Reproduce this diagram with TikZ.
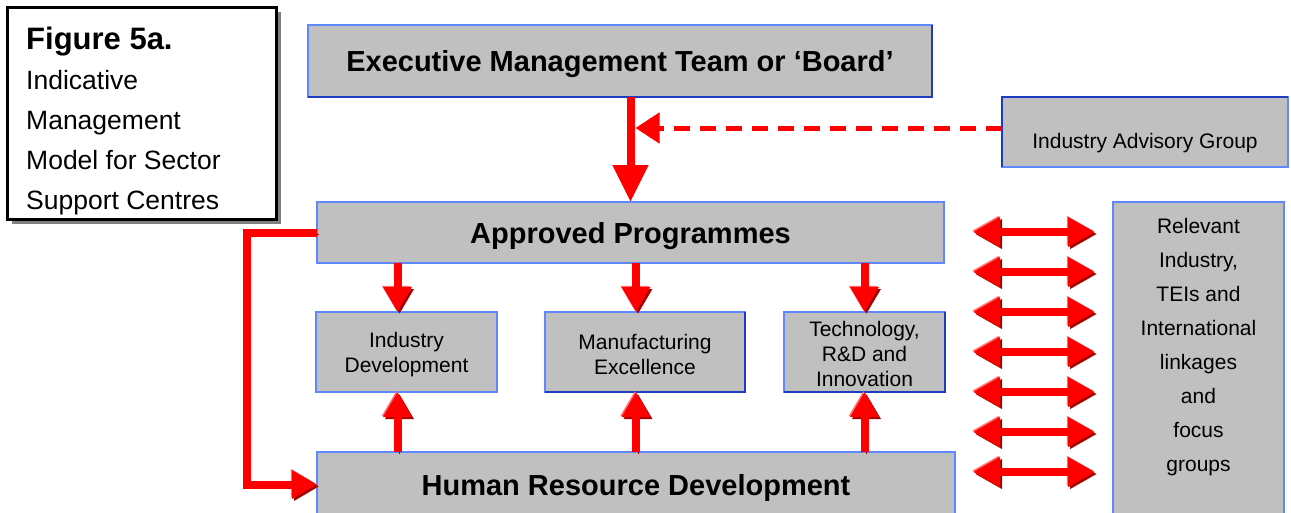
\documentclass[tikz,border=0pt]{standalone}
\usepackage{fontspec}
\setmainfont{Liberation Sans}
\usetikzlibrary{arrows.meta,shadows,calc}
\definecolor{boxgray}{RGB}{192,192,192}
\definecolor{lblue}{RGB}{95,135,255}
\definecolor{dblue}{RGB}{30,60,190}
\definecolor{arrred}{RGB}{255,0,0}
\definecolor{darkred}{RGB}{165,0,0}
\definecolor{lightred}{RGB}{255,110,110}
\begin{document}
\begin{tikzpicture}[x=1pt,y=-1pt,
  box/.style={rectangle, fill=boxgray, draw=lblue, line width=1.3pt, anchor=north west,
    inner sep=0pt, outer sep=0pt},
  bigtxt/.style={font=\fontsize{29}{34}\selectfont\bfseries, align=center},
  midtxt/.style={font=\fontsize{21}{25}\selectfont, align=center},
  darkedge/.style={draw=dblue, line width=1.8pt},
  shade3d/.style={preaction={draw=darkred, transform canvas={xshift=2pt,yshift=-2pt}},
                  preaction={draw=lightred, transform canvas={xshift=-1.2pt,yshift=1.2pt}}},
  bigarrow/.style={draw=arrred, line width=8pt, -{Triangle[length=37pt,width=34pt]}},
  dasharrow/.style={draw=arrred, line width=5pt, dash pattern=on 16pt off 10pt,
    -{Triangle[length=24pt,width=30pt]}},
  smallarrow/.style={draw=arrred, line width=8pt, -{Triangle[length=25pt,width=27pt]}, shade3d},
  looparrow/.style={draw=arrred, line width=8pt, -{Triangle[length=25pt,width=27pt]}, shade3d},
  dblarrow/.style={draw=arrred, line width=8pt, {Triangle[length=27pt,width=28pt]}-{Triangle[length=27pt,width=28pt]}, shade3d}
]
\useasboundingbox (0,0) rectangle (1291,512);

% title box
\node[fill=white, draw=black, line width=2.5pt, anchor=north west, minimum width=269pt,
  minimum height=212pt, inner sep=0pt,
  drop shadow={shadow xshift=5pt, shadow yshift=-5pt, fill=gray, opacity=1}] (fig) at (6,6) {};
\node[anchor=north west, align=left, inner sep=0pt, font=\fontsize{26.5}{40}\selectfont]
  (figtext) at ([xshift=20pt,yshift=-21pt]fig.north west)
  {{\fontsize{31}{40}\selectfont\bfseries Figure 5a.}\\Indicative\\Management\\Model for Sector\\Support Centres};

% boxes
\node[box, minimum width=624pt, minimum height=72pt,
  label={[bigtxt, yshift=-3pt]center:Executive Management Team or `Board'}] (exec) at (308,25) {};
\node[box, minimum width=286pt, minimum height=70pt,
  label={[midtxt, yshift=-11pt]center:Industry Advisory Group}] (iag) at (1002,97) {};
\node[box, minimum width=627pt, minimum height=61pt,
  label={[bigtxt, yshift=-4pt]center:Approved Programmes}] (ap) at (317,202) {};
\node[box, minimum width=181pt, minimum height=80pt,
  label={[midtxt, yshift=-3pt]center:Industry\\Development}] (id) at (316,312) {};
\node[box, minimum width=200pt, minimum height=80pt,
  label={[midtxt, yshift=-2pt]center:Manufacturing\\Excellence}] (me) at (545,312) {};
\node[box, minimum width=161pt, minimum height=80pt,
  label={[midtxt, yshift=-2pt]center:Technology,\\R\&D and\\Innovation}] (trd) at (784,312) {};
\node[box, minimum width=638pt, minimum height=65pt,
  label={[bigtxt, yshift=-3pt]center:Human Resource Development}] (hrd) at (317,452) {};
\node[box, minimum width=171pt, minimum height=315pt,
  label={[font=\fontsize{21}{34}\selectfont, align=center, yshift=12pt]center:Relevant\\Industry,\\TEIs and\\International\\linkages\\and\\focus\\groups}] (rel) at (1113,202) {};

% shaded edges
\foreach \n in {exec, me, trd}
  \draw[darkedge] (\n.north east) -- (\n.south east) -- (\n.south west);
\draw[darkedge] (iag.south west) -- (iag.north west) -- (iag.north east);

% connectors
\draw[bigarrow] (exec.south -| ap.north) -- (ap.north);
\draw[dasharrow] ([yshift=4pt]iag.west) -- ([yshift=4pt,xshift=5pt]iag.west -| ap.north);

\coordinate (idx) at ($(id.north)+(-9,0)$);
\coordinate (mex) at ($(me.north)+(-9,0)$);
\coordinate (trdx) at (trd.north);
\foreach \c/\n in {idx/id, mex/me, trdx/trd} {
  \draw[smallarrow] (ap.south -| \c) -- (\n.north -| \c);
  \draw[smallarrow] (hrd.north -| \c) -- (\n.south -| \c);
}

\coordinate (loopx) at (247,0);
\draw[looparrow] (ap.west) -- (ap.west -| loopx) |- (hrd.west);

\foreach \y in {232,272,312,352,392,432,472} {
  \coordinate (dy) at (0,\y);
  \draw[dblarrow, shorten <=29pt, shorten >=18pt] (ap.east |- dy) -- (rel.west |- dy);
}
\end{tikzpicture}
\end{document}
